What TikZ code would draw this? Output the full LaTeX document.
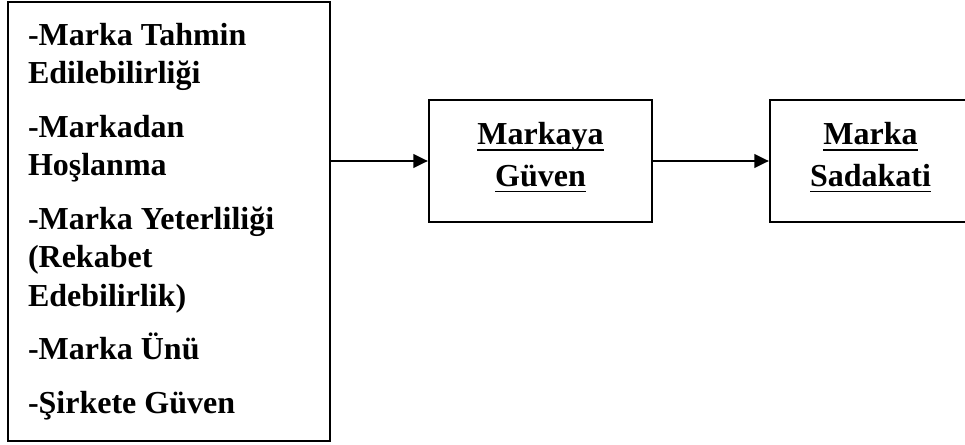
\documentclass[tikz,border=0pt]{standalone}
\usepackage{fontspec}
\setmainfont{Liberation Serif}
\usetikzlibrary{positioning,arrows.meta}
\newcommand{\ulword}[1]{\setbox0\hbox{#1}\rlap{\rule[-4.5pt]{\wd0}{1.2pt}}\box0}

\begin{document}
\begin{tikzpicture}[>={Triangle[length=11pt,width=10pt]}, font=\bfseries\fontsize{24}{29}\selectfont]
    \useasboundingbox (0pt,0pt) rectangle (723.75pt,333pt);
    % Kutular
    \node (factors) [rectangle, draw, line width=1.5pt, text width=211.5pt, inner xsep=15pt, align=flush left, minimum width=241.5pt, minimum height=329.25pt] at (126.75pt,166.9pt) {-Marka Tahmin\\Edilebilirliği\\[11pt]-Markadan\\Hoşlanma\\[11pt]-Marka Yeterliliği\\(Rekabet\\Edebilirlik)\\[11pt]-Marka Ünü\\[11pt]-Şirkete Güven};
    \node (trust) [rectangle, draw, line width=1.5pt, align=center, right=72.75pt of factors, yshift=45.35pt, minimum width=167.25pt, minimum height=91.5pt] {\ulword{Markaya}\\[2pt]\ulword{Güven}\rule[-10pt]{0pt}{0pt}};
    \node (loyalty) [rectangle, draw, line width=1.5pt, align=center, right=87pt of trust, minimum width=150.75pt, minimum height=91.5pt] {\ulword{Marka}\\[2pt]\ulword{Sadakati}\rule[-10pt]{0pt}{0pt}};
    % Oklar
    \draw [->, line width=2.2pt] (factors.east |- trust.west) -- (trust.west);
    \draw [->, line width=2.2pt] (trust) -- (loyalty);
\end{tikzpicture}
\end{document}
